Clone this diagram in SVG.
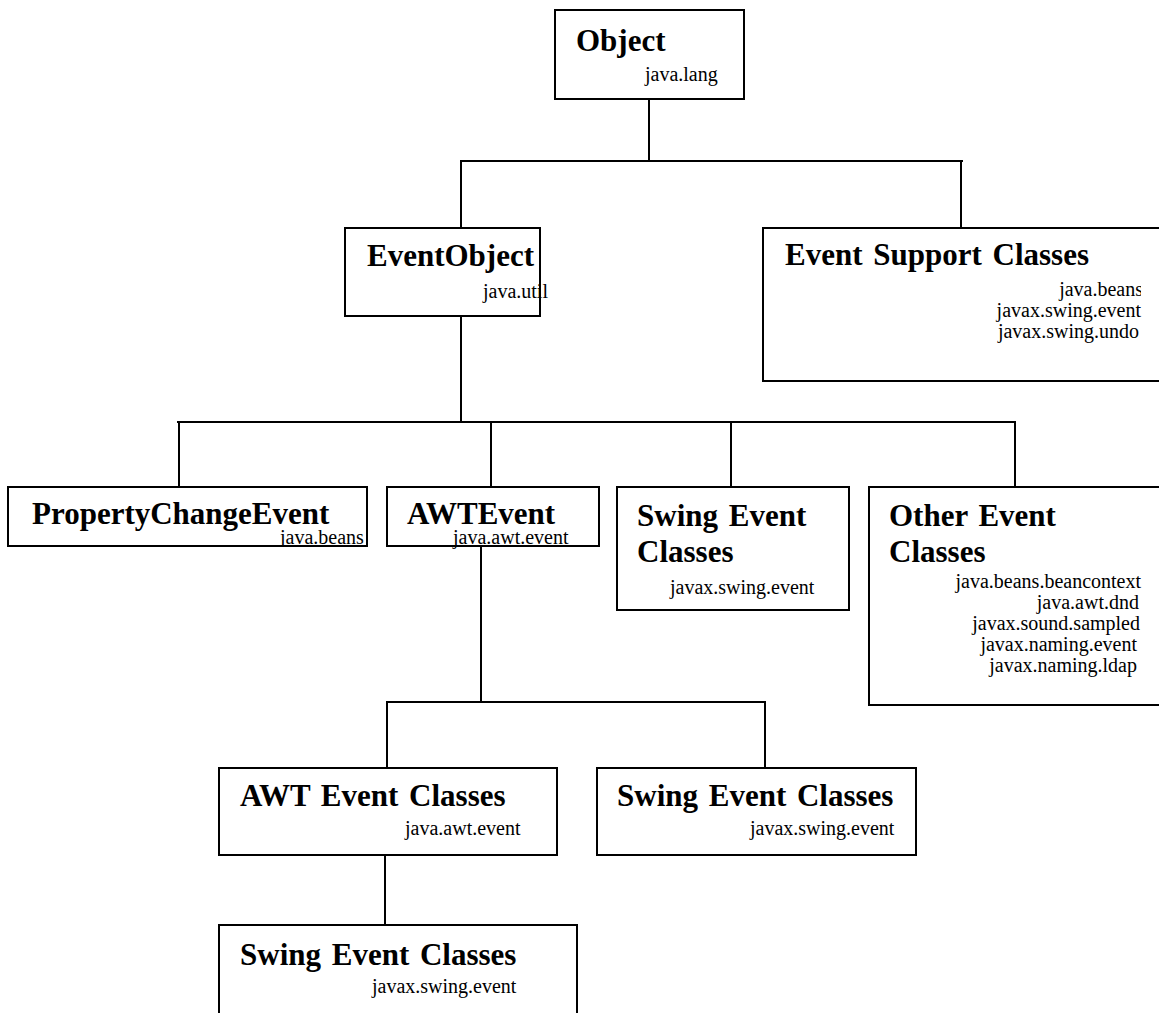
<svg xmlns="http://www.w3.org/2000/svg" width="1159" height="1013" viewBox="0 0 1159 1013">
<defs>
<style>
.box{fill:#fff;stroke:#000;stroke-width:2}
.ln{stroke:#000;stroke-width:2;fill:none}
.t{font-family:"Liberation Serif","Times New Roman",serif;font-weight:bold;font-size:31px;fill:#000;word-spacing:3px}
.s{font-family:"Liberation Serif","Times New Roman",serif;font-size:20px;fill:#000}
.r{text-anchor:end}
</style>
<clipPath id="cpPce"><rect x="8" y="487" width="358" height="59"/></clipPath>
<clipPath id="cpEsc"><rect x="763" y="228" width="378" height="153"/></clipPath>
</defs>
<rect width="1159" height="1013" fill="#fff"/>
<g id="connectors">
<path class="ln" d="M649,99V161M460,161H963M461,161V228M961,161V228"/>
<path class="ln" d="M461,316V422M177,422H1016M179,422V487M491,422V487M731,422V487M1015,422V487"/>
<path class="ln" d="M481,546V702M386,702H766M387,702V768M765,702V768"/>
<path class="ln" d="M385,855V925"/>
</g>
<g id="object">
<rect class="box" x="555" y="10" width="189" height="89"/>
<text class="t" x="576" y="51">Object</text>
<text class="s" x="645" y="81">java.lang</text>
</g>
<g id="eventobject">
<rect class="box" x="345" y="228" width="195" height="88"/>
<text class="t" x="367" y="266">EventObject</text>
<text class="s" x="483" y="298">java.util</text>
</g>
<g id="eventsupport">
<rect class="box" x="763" y="228" width="410" height="153"/>
<text class="t" x="785" y="265">Event Support Classes</text>
<g clip-path="url(#cpEsc)">
<text class="s r" x="1143" y="296">java.beans</text>
</g>
<text class="s r" x="1141" y="317">javax.swing.event</text>
<text class="s r" x="1139" y="338">javax.swing.undo</text>
</g>
<g id="propertychange">
<rect class="box" x="8" y="487" width="359" height="59"/>
<text class="t" x="32" y="524">PropertyChangeEvent</text>
<g clip-path="url(#cpPce)">
<text class="s" x="280" y="544">java.beans</text>
</g>
</g>
<g id="awtevent">
<rect class="box" x="387" y="487" width="212" height="59"/>
<text class="t" x="407" y="524">AWTEvent</text>
<text class="s" x="453" y="544">java.awt.event</text>
</g>
<g id="swing1">
<rect class="box" x="617" y="487" width="232" height="123"/>
<text class="t" x="637" y="526">Swing Event</text>
<text class="t" x="637" y="562">Classes</text>
<text class="s" x="670" y="594">javax.swing.event</text>
</g>
<g id="other">
<rect class="box" x="869" y="487" width="304" height="218"/>
<text class="t" x="889" y="526">Other Event</text>
<text class="t" x="889" y="562">Classes</text>
<text class="s r" x="1141" y="588">java.beans.beancontext</text>
<text class="s r" x="1139" y="609">java.awt.dnd</text>
<text class="s r" x="1140" y="630">javax.sound.sampled</text>
<text class="s r" x="1137" y="651">javax.naming.event</text>
<text class="s r" x="1137" y="672">javax.naming.ldap</text>
</g>
<g id="awtclasses">
<rect class="box" x="219" y="768" width="338" height="87"/>
<text class="t" x="240" y="806">AWT Event Classes</text>
<text class="s" x="405" y="835">java.awt.event</text>
</g>
<g id="swing2">
<rect class="box" x="597" y="768" width="319" height="87"/>
<text class="t" x="617" y="806">Swing Event Classes</text>
<text class="s" x="750" y="835">javax.swing.event</text>
</g>
<g id="swing3">
<rect class="box" x="219" y="925" width="358" height="100"/>
<text class="t" x="240" y="965">Swing Event Classes</text>
<text class="s" x="372" y="993">javax.swing.event</text>
</g>
</svg>
